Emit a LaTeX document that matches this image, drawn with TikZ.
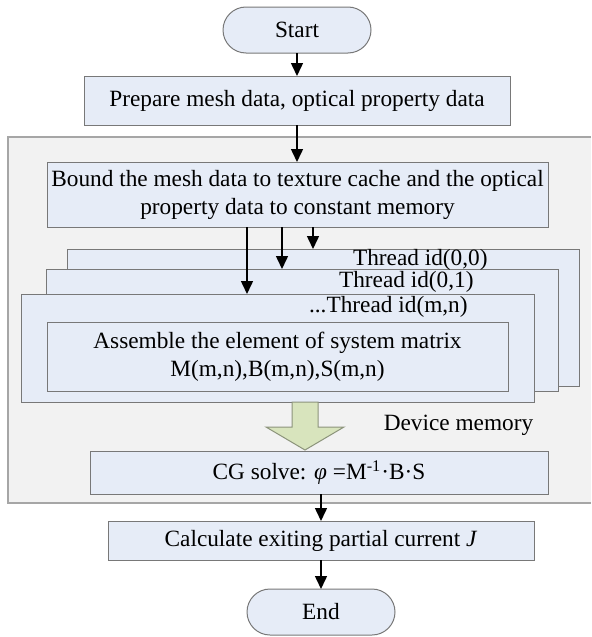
\documentclass[tikz,border=0pt]{standalone}
\usepackage{fontspec}
\setmainfont{Liberation Serif}
\usetikzlibrary{arrows.meta}
\definecolor{boxblue}{RGB}{230,236,247}
\definecolor{bggray}{RGB}{242,242,242}
\definecolor{edgegray}{RGB}{120,120,120}
\definecolor{arrowgreen}{RGB}{216,228,189}
\begin{document}
\begin{tikzpicture}[x=0.5pt, y=-0.5pt,
    box/.style={draw=edgegray, fill=boxblue, line width=0.5pt, inner sep=0pt, outer sep=0pt,
        align=center, font=\fontsize{11.65}{14}\selectfont},
    term/.style={box, rounded corners=11.5pt, minimum width=74pt, minimum height=23pt},
    arr/.style={-{Triangle[width=6pt,length=6.5pt]}, line width=0.75pt},
    lbl/.style={font=\fontsize{11.65}{14}\selectfont, inner sep=0pt}]
    \useasboundingbox (0,0) rectangle (591,637);
    % Device memory region
    \fill[bggray] (8,137) rectangle (591,503);
    \draw[black!35, line width=0.75pt] (591,137) -- (8,137) -- (8,503) -- (591,503);
    % Start & prepare
    \node[term] (start) at (297,30) {Start};
    \node[box, minimum width=213pt, minimum height=24.5pt] (prep) at (297,100.5) {Prepare mesh data, optical property data};
    % Bind to cache
    \node[box, minimum width=250.5pt, minimum height=32.5pt] (bound) at (297.5,194.5)
        {Bound the mesh data to texture cache and the optical\\property data to constant memory};
    % Thread blocks
    \node[box, minimum width=256pt, minimum height=68.5pt] (th00) at (323,317.5) {};
    \node[box, minimum width=256pt, minimum height=61pt] (th01) at (302,330) {};
    \node[box, minimum width=256.5pt, minimum height=54pt] (thmn) at (277.5,348) {};
    \node[lbl, anchor=east] (l00) at (488,260) {Thread id(0,0)};
    \node[lbl, anchor=east] (l01) at (474,282) {Thread id(0,1)};
    \node[lbl, anchor=east] (lmn) at (468,307) {...Thread id(m,n)};
    \node[box, minimum width=230.5pt, minimum height=34.5pt] (asm) at (277.5,356.5)
        {Assemble the element of system matrix\\M(m,n),B(m,n),S(m,n)};
    % Arrows into the threads
    \coordinate (c1) at (247,0);
    \coordinate (c2) at (282,0);
    \coordinate (c3) at (313,0);
    \draw[arr] (bound.south -| c1) -- (thmn.north -| c1);
    \draw[arr] (bound.south -| c2) -- (th01.north -| c2);
    \draw[arr] (bound.south -| c3) -- (th00.north -| c3);
    % Solver
    \node[box, minimum width=229pt, minimum height=21.5pt] (cg) at (319,472.5)
        {CG solve: \textit{φ} =M\textsuperscript{-1}·B·S};
    \filldraw[fill=arrowgreen, draw=arrowgreen!65!black, line width=0.5pt]
        (292,402) -- (292,427) -- (266,427) -- (305,450) -- (344,427) -- (318,427) -- (318,402) -- cycle;
    \node[lbl] (mem) at (458.5,425) {Device memory};
    % Output
    \node[box, minimum width=213pt, minimum height=19.5pt] (calc) at (321,540.5)
        {Calculate exiting partial current \textit{J}};
    \node[term] (end) at (321,612) {End};
    % Main flow
    \draw[arr] (start) -- (prep);
    \draw[arr] (prep.south) -- (prep.south |- bound.north);
    \draw[arr] (calc.north |- cg.south) -- (calc.north);
    \draw[arr] (calc) -- (end);
\end{tikzpicture}
\end{document}
